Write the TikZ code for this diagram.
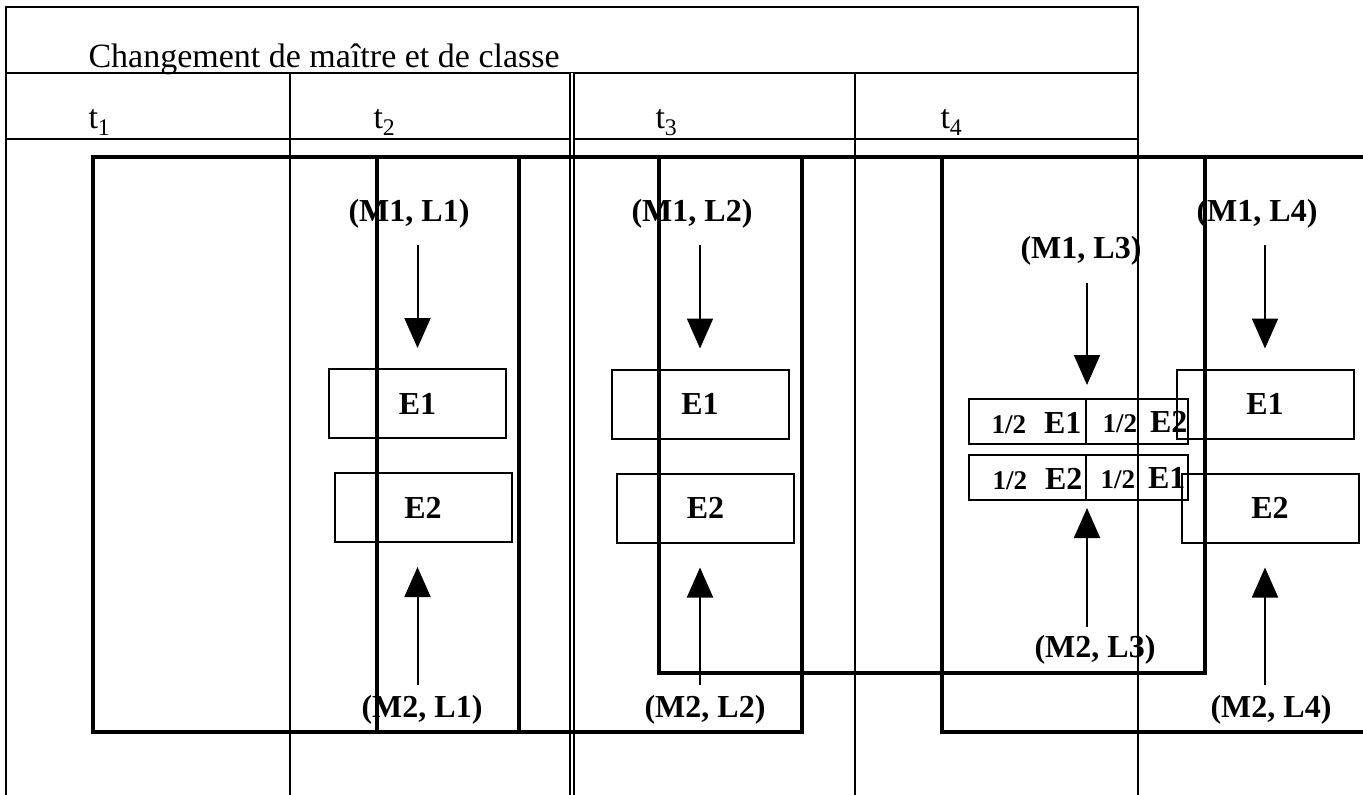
\documentclass[tikz,border=0pt]{standalone}
\usepackage{fontspec}
\setmainfont{Liberation Serif}
\usetikzlibrary{arrows.meta}

\tikzset{
  ligne/.style={line width=2pt},
  cadre/.style={line width=4pt},
  etat/.style={draw, line width=2pt, minimum width=177pt, minimum height=69pt, inner sep=0pt, font=\fontsize{32}{38}\selectfont\bfseries},
  demi/.style={draw, line width=2pt, minimum height=45pt, inner sep=0pt},
  paire/.style={inner sep=0pt, font=\fontsize{32}{38}\selectfont\bfseries},
  fleche/.style={line width=2pt, -{Triangle[width=26pt,length=30pt]}}
}

\begin{document}
\begin{tikzpicture}[x=1pt, y=-1pt, font=\fontsize{34}{40}\selectfont]
                \useasboundingbox (0,0) rectangle (1363,795);
                \draw[ligne] (6,795) -- (6,7) -- (1138,7) -- (1138,795);
                \draw[ligne] (6,73) -- (1138,73);
                \draw[ligne] (6,139) -- (1138,139);
                \draw[ligne] (290,73) -- (290,795);
                \draw[ligne] (855,73) -- (855,795);
                \draw[line width=1.6pt, double, double distance=2.4pt] (572,73) -- (572,795);
                \node[anchor=base west] (titre) at (85,67) {Changement de maître et de classe};
                \node[anchor=base west] (t1) at (85,128) {t\textsubscript{1}};
                \node[anchor=base west] (t2) at (370,128) {t\textsubscript{2}};
                \node[anchor=base west] (t3) at (652,128) {t\textsubscript{3}};
                \node[anchor=base west] (t4) at (937,128) {t\textsubscript{4}};

                \draw[cadre] (93,157) rectangle (519,732);
                \draw[cadre] (377,157) rectangle (802,732);
                \draw[cadre] (659,157) rectangle (1205,673);
                \draw[cadre] (1366,157) -- (942,157) -- (942,732) -- (1366,732);

                \node[etat] (e1a) at (417.5,403.5) {E1};
                \node[etat] (e2a) at (423,507.5) {E2};
                \node[etat] (e1b) at (700,404) {E1};
                \node[etat] (e2b) at (705.5,508) {E2};
                \node[etat] (e1d) at (1265,404) {E1};
                \node[etat] (e2d) at (1270,508) {E2};

                \node[demi, minimum width=117pt] (h1) at (1027.5,421.5) {};
                \node[demi, minimum width=102pt] (h2) at (1137,421.5) {};
                \node[demi, minimum width=117pt] (h3) at (1027.5,477.5) {};
                \node[demi, minimum width=102pt] (h4) at (1137,477.5) {};
                \node[paire] (p1) at (1036.5,423) {{\fontsize{27}{30}\selectfont 1/2}\hspace{18pt}E1};
                \node[paire] (p2) at (1145,422) {{\fontsize{27}{30}\selectfont 1/2}\hspace{13pt}E2};
                \node[paire] (p3) at (1037.5,479) {{\fontsize{27}{30}\selectfont 1/2}\hspace{18pt}E2};
                \node[paire] (p4) at (1143,478) {{\fontsize{27}{30}\selectfont 1/2}\hspace{13pt}E1};

                \node[paire] (m1l1) at (409,214) {(M1, L1)};
                \node[paire] (m2l1) at (422,710) {(M2, L1)};
                \node[paire] (m1l2) at (692,214) {(M1, L2)};
                \node[paire] (m2l2) at (705,710) {(M2, L2)};
                \node[paire] (m1l3) at (1081,251) {(M1, L3)};
                \node[paire] (m2l3) at (1095,650) {(M2, L3)};
                \node[paire] (m1l4) at (1257,214) {(M1, L4)};
                \node[paire] (m2l4) at (1271,710) {(M2, L4)};

                \draw[fleche, shorten <=16pt, shorten >=20pt] (m1l1.south -| e1a.north) -- (e1a.north);
                \draw[fleche, shorten <=10pt, shorten >=24pt] (m2l1.north -| e1a.south) -- (e2a.south -| e1a.south);
                \draw[fleche, shorten <=16pt, shorten >=20pt] (m1l2.south -| e1b.north) -- (e1b.north);
                \draw[fleche, shorten <=10pt, shorten >=24pt] (m2l2.north -| e1b.south) -- (e2b.south -| e1b.south);
                \draw[fleche, shorten <=17pt, shorten >=13pt] (m1l3.south -| h1.north east) -- (h1.north east);
                \draw[fleche, shorten <=8pt, shorten >=7pt] (m2l3.north -| h3.south east) -- (h3.south east);
                \draw[fleche, shorten <=16pt, shorten >=20pt] (m1l4.south -| e1d.north) -- (e1d.north);
                \draw[fleche, shorten <=10pt, shorten >=24pt] (m2l4.north -| e1d.south) -- (e2d.south -| e1d.south);
            \end{tikzpicture}
\end{document}
